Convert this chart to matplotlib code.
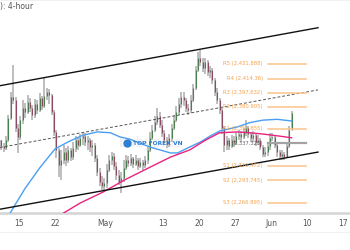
import numpy as np
import matplotlib.pyplot as plt

# gold 4-hour candles, one candle drawn for every second bar
bar_step = 2
first_open = 2341
closes = [2334, 2332, 2341, 2368, 2393, 2389, 2356, 2345, 2365, 2380,
          2375, 2387, 2380, 2371, 2384, 2377, 2391, 2382, 2394, 2398,
          2395, 2375, 2351, 2330, 2312, 2318, 2327, 2318, 2330, 2321,
          2332, 2341, 2335, 2344, 2346, 2339, 2341, 2333, 2335, 2320,
          2303, 2291, 2287, 2290, 2306, 2318, 2322, 2310, 2300, 2291,
          2296, 2308, 2318, 2314, 2320, 2313, 2318, 2310, 2315, 2312,
          2318, 2330, 2344, 2353, 2363, 2370, 2359, 2350, 2341, 2337,
          2344, 2356, 2365, 2375, 2384, 2393, 2389, 2380, 2377, 2389,
          2403, 2425, 2439, 2434, 2427, 2434, 2422, 2425, 2413, 2398,
          2389, 2377, 2356, 2335, 2341, 2334, 2341, 2338, 2346, 2349,
          2345, 2351, 2356, 2349, 2344, 2347, 2339, 2341, 2333, 2325,
          2327, 2334, 2344, 2345, 2335, 2327, 2322, 2325, 2321, 2334,
          2353, 2374]
highs = [2341, 2338, 2346, 2371, 2398, 2431, 2393, 2360, 2370, 2389,
         2385, 2395, 2391, 2383, 2390, 2389, 2397, 2394, 2416, 2403,
         2402, 2396, 2377, 2353, 2332, 2330, 2335, 2332, 2334, 2332,
         2339, 2346, 2345, 2348, 2351, 2350, 2346, 2344, 2341, 2338,
         2324, 2308, 2299, 2296, 2313, 2324, 2327, 2326, 2315, 2306,
         2303, 2318, 2324, 2322, 2325, 2321, 2324, 2320, 2320, 2318,
         2322, 2334, 2351, 2359, 2370, 2379, 2375, 2365, 2353, 2345,
         2348, 2360, 2371, 2382, 2391, 2398, 2398, 2391, 2384, 2395,
         2408, 2429, 2446, 2448, 2439, 2439, 2437, 2429, 2427, 2415,
         2403, 2391, 2380, 2358, 2346, 2344, 2347, 2346, 2351, 2353,
         2352, 2356, 2365, 2358, 2351, 2352, 2350, 2347, 2344, 2335,
         2333, 2339, 2350, 2350, 2347, 2338, 2330, 2330, 2327, 2339,
         2358, 2376]
lows = [2330, 2327, 2330, 2339, 2365, 2384, 2351, 2326, 2341, 2360,
        2368, 2372, 2375, 2365, 2368, 2372, 2375, 2377, 2380, 2389,
        2384, 2371, 2346, 2320, 2297, 2294, 2313, 2310, 2314, 2316,
        2318, 2327, 2330, 2333, 2335, 2334, 2330, 2327, 2322, 2315,
        2299, 2287, 2282, 2282, 2284, 2303, 2312, 2306, 2294, 2288,
        2278, 2291, 2306, 2309, 2310, 2308, 2310, 2306, 2308, 2306,
        2308, 2313, 2327, 2341, 2351, 2359, 2356, 2345, 2335, 2332,
        2333, 2339, 2353, 2363, 2371, 2379, 2382, 2375, 2371, 2374,
        2387, 2401, 2422, 2429, 2422, 2420, 2418, 2415, 2408, 2394,
        2384, 2372, 2349, 2327, 2330, 2330, 2332, 2333, 2335, 2341,
        2339, 2343, 2346, 2344, 2339, 2339, 2334, 2335, 2330, 2321,
        2321, 2322, 2330, 2340, 2332, 2321, 2318, 2318, 2318, 2320,
        2332, 2353]

# moving averages (bar index, price)
blue_x = [6, 10, 20, 32, 45, 51, 57, 68, 80, 91, 99, 107, 124, 141, 147,
          157, 166, 174, 182, 197, 207, 218, 230, 242]
blue_ma = [2251, 2260.5, 2284, 2308, 2331, 2335.5, 2340, 2347, 2351, 2350,
           2345, 2342.5, 2333, 2326, 2326, 2333, 2339, 2346, 2352, 2357,
           2362, 2365, 2366, 2364]
pink_x = [49, 52, 66, 85, 103, 124, 141, 157, 170, 182, 197, 207, 218, 232, 242]
pink_ma = [2251, 2254.5, 2266.5, 2279.5, 2294, 2309, 2321, 2329.5, 2341, 2350,
           2351, 2350, 2348.5, 2346, 2344]

# rising channel
chan_x = [-1, 264]
chan_top = [2406, 2475]
chan_bot = [2259, 2327]
chan_mid = [2332.5, 2401]

pivot_names = ['R5', 'R4', 'R3', 'R2', 'R1', 'P', 'S1', 'S2', 'S3']
pivot_vals = [2431.888, 2414.36, 2397.632, 2380.905, 2354.855, 2337.325,
              2310.472, 2293.745, 2266.895]
pivot_x = [222, 254]

tick_pos = [15, 45, 87, 135, 165, 195, 225, 255, 285]
tick_lbl = ['15', '22', 'May', '13', '20', '27', 'Jun', '10', '17']

fig = plt.figure(figsize=(3.5, 2.5), dpi=100)
ax = fig.add_axes([0, 0.148, 1, 0.852])
ax.set_xlim(-1, 290.67)
ax.set_ylim(2254.5, 2508)

ax.text(124, 2338, 'babypips', fontsize=10, color='#eeeeee', ha='center',
        va='center', zorder=0)

x = np.arange(len(closes)) * bar_step
opens = [first_open] + closes[:-1]
up = np.array(closes) >= np.array(opens)
ax.vlines(x, lows, highs, color='#b9b9b9', lw=1.3, zorder=1)
ax.vlines(x[up], np.array(opens)[up], np.array(closes)[up], color='#4b7f50', lw=0.8, zorder=2)
ax.vlines(x[~up], np.array(opens)[~up], np.array(closes)[~up], color='#8c4a63', lw=0.8, zorder=2)

ax.plot(blue_x, blue_ma, color='#4a9ff2', lw=1.0, zorder=3)
ax.plot(pink_x, pink_ma, color='#e8237f', lw=1.0, zorder=3)

ax.plot(chan_x, chan_top, color='#111111', lw=1.0, zorder=4)
ax.plot(chan_x, chan_bot, color='#111111', lw=1.0, zorder=4)
ax.plot(chan_x, chan_mid, color='#555555', lw=0.7, dashes=(3, 2), zorder=4)

for name, v in zip(pivot_names, pivot_vals):
    if name == 'P':
        lc, tc, lw = '#a3a3a3', '#666666', 1.6
    else:
        lc, tc, lw = '#fbc48a', '#f5a24d', 1.1
    ax.plot(pivot_x, [v, v], color=lc, lw=lw, zorder=5)
    ax.text(218, v, f'{name} ({v:,})', fontsize=3.8, color=tc, ha='right',
            va='center', zorder=6)

ax.plot(105, 2338, 'o', ms=5, color='#2d7fd3', zorder=6)
ax.text(110, 2337, 'TOP FOREX VN', fontsize=4.3, color='#2d7fd3',
        fontweight='bold', ha='left', va='center', zorder=6)

ax.set_xticks(tick_pos)
ax.set_xticklabels(tick_lbl)
ax.set_yticks([])
ax.tick_params(axis='x', length=0, pad=4, labelsize=5.5, labelcolor='#555555')
for s in ['left', 'right']:
    ax.spines[s].set_visible(False)
ax.spines['top'].set_color('#eeeeee')
ax.spines['top'].set_linewidth(0.6)
ax.spines['bottom'].set_color('#d4d4d4')
ax.spines['bottom'].set_linewidth(1.8)

fig.text(0.0, 0.972, '): 4-hour', fontsize=5.5, color='#555555', ha='left', va='center')
fig.add_artist(plt.Line2D([0, 1], [0.074, 0.074], color='#f2f2f2', lw=0.8))

fig.savefig('out.png', dpi=100)
